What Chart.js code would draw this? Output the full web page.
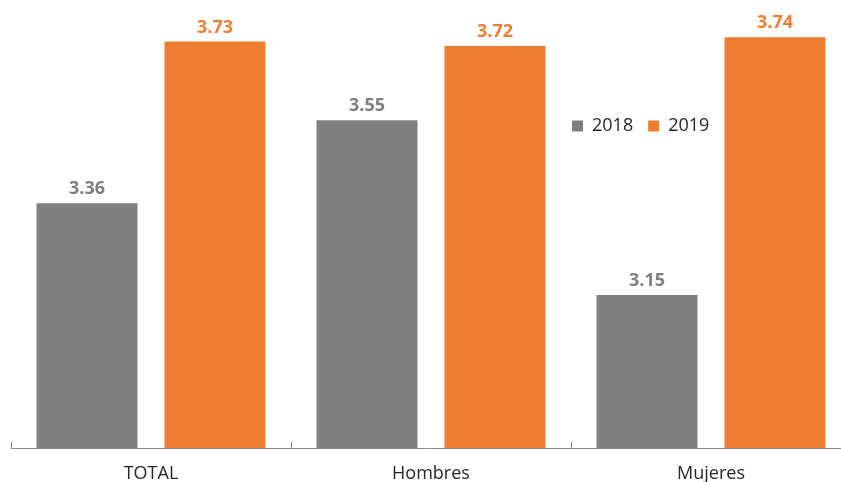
<!DOCTYPE html>
<html><head><meta charset="utf-8">
<style>
html,body{margin:0;padding:0;background:#fff;overflow:hidden;}
#wrap{width:852px;height:482px;position:relative;}
</style>
<script src="https://cdn.jsdelivr.net/npm/chart.js@4"></script>
</head><body>
<div id="wrap"><canvas id="c"></canvas></div>
<script>
const categories = ['TOTAL', 'Hombres', 'Mujeres'];
const seriesNames = ['2018', '2019'];
const values2018 = [3.36, 3.55, 3.15];
const values2019 = [3.73, 3.72, 3.74];
const yMin = 2.8;
const yMax = 3.8;

const GRAY = '#7F7F7F';
const ORANGE = '#ED7D31';
const FONT = '"Open Sans", "DejaVu Sans", sans-serif';

const valueLabels = {
  id: 'valueLabels',
  afterDatasetsDraw(chart) {
    const ctx = chart.ctx;
    ctx.save();
    ctx.font = 'bold 18px ' + FONT;
    ctx.textAlign = 'center';
    ctx.textBaseline = 'alphabetic';
    chart.data.datasets.forEach((ds, i) => {
      const meta = chart.getDatasetMeta(i);
      ctx.fillStyle = ds.backgroundColor;
      meta.data.forEach((bar, j) => {
        ctx.fillText(ds.data[j].toFixed(2), bar.x, bar.y - 9);
      });
    });
    ctx.restore();
  }
};

const legendMover = {
  id: 'legendMover',
  beforeLayout(chart) {
    if (chart.legend) chart.legend.isHorizontal = () => true;
  },
  beforeDraw(chart) {
    const lg = chart.legend;
    if (!lg) return;
    const w = lg.width, h = lg.height;
    lg.left = 557; lg.top = 102;
    lg.right = lg.left + w; lg.bottom = lg.top + h;
  }
};

new Chart(document.getElementById('c'), {
  type: 'bar',
  data: {
    labels: categories,
    datasets: [
      { label: seriesNames[0], data: values2018, backgroundColor: GRAY, borderWidth: 0,
        categoryPercentage: 0.914, barPercentage: 0.789 },
      { label: seriesNames[1], data: values2019, backgroundColor: ORANGE, borderWidth: 0,
        categoryPercentage: 0.914, barPercentage: 0.789 }
    ]
  },
  options: {
    responsive: true,
    maintainAspectRatio: false,
    animation: false,
    layout: { padding: { left: 11, right: 1, top: 11, bottom: 0 } },
    plugins: {
      tooltip: { enabled: false },
      legend: {
        position: 'chartArea',
        align: 'start',
        labels: {
          boxWidth: 11, boxHeight: 11, padding: 15,
          color: '#262626',
          font: { family: FONT, size: 18 }
        }
      }
    },
    scales: {
      x: {
        offset: true,
        grid: {
          offset: true,
          drawOnChartArea: false,
          drawTicks: true,
          tickLength: -6,
          tickColor: '#7F7F7F',
          color: '#7F7F7F'
        },
        border: { display: true, color: '#8C8C8C', width: 1 },
        ticks: {
          color: '#262626',
          padding: 21,
          font: { family: FONT, size: 18 }
        },
        afterFit(scale) { scale.height = 34; }
      },
      y: {
        display: false,
        min: yMin,
        max: yMax
      }
    }
  },
  plugins: [valueLabels, legendMover]
});
</script>
</body></html>
